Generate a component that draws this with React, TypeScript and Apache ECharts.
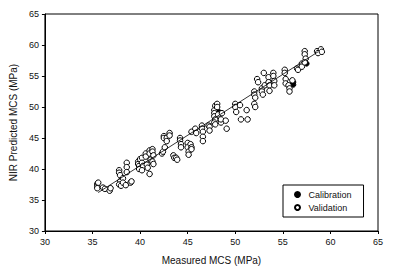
import React, { useEffect, useRef } from "react";
import * as echarts from "echarts";

const xTicks = [30, 35, 40, 45, 50, 55, 60, 65];
const yTicks = [30, 35, 40, 45, 50, 55, 60, 65];

const seriesNames = ["Calibration", "Validation"];

const calibrationPoints: [number, number][] = [
  [48.2, 49.3], [48.4, 49.1], [56.1, 54.0], [56.1, 53.6], [57.5, 57.0], [41.3, 42.4],
];

const validationPoints: [number, number][] = [
  [35.5, 37.6], [35.5, 37.2], [35.5, 36.9], [35.6, 37.8], [36.1, 37.0], [36.3, 36.8],
  [36.8, 36.5], [36.9, 36.9], [37.8, 39.8], [37.8, 39.4], [37.9, 39.0], [37.9, 38.0],
  [37.8, 37.5], [38.0, 37.3], [38.2, 38.5], [38.2, 37.8], [38.5, 37.4], [38.6, 41.0],
  [38.6, 40.3], [38.6, 39.5], [39.0, 37.8], [39.1, 38.0], [39.8, 41.2], [39.8, 40.8],
  [39.9, 40.5], [39.9, 40.0], [40.0, 41.6], [40.2, 41.8], [40.2, 41.0], [40.3, 40.5],
  [40.2, 39.8], [40.6, 42.5], [40.6, 42.0], [40.7, 40.7], [40.8, 40.2], [41.0, 43.0],
  [41.0, 42.5], [41.1, 41.5], [41.0, 39.2], [41.3, 43.2], [41.3, 42.8], [41.4, 42.2],
  [41.3, 41.2], [41.4, 40.8], [42.3, 42.5], [42.4, 42.8], [42.5, 45.3], [42.5, 45.0],
  [42.6, 43.5], [42.8, 45.0], [42.8, 44.5], [43.1, 45.8], [43.1, 45.4], [43.5, 42.2],
  [43.6, 41.8], [43.8, 41.8], [43.9, 41.5], [44.2, 45.0], [44.2, 44.6], [44.3, 44.0],
  [44.3, 43.5], [45.0, 44.2], [45.0, 43.5], [45.1, 42.8], [45.1, 42.3], [45.3, 44.0],
  [45.4, 43.5], [45.4, 43.2], [45.4, 46.0], [45.8, 46.5], [45.9, 45.8], [46.5, 47.0],
  [46.5, 46.5], [46.6, 46.0], [46.6, 45.2], [46.6, 44.5], [47.2, 47.0], [47.3, 46.8],
  [47.3, 46.2], [47.8, 49.5], [47.8, 49.0], [47.8, 48.5], [47.9, 48.0], [47.8, 47.5],
  [47.9, 47.2], [47.9, 50.2], [48.1, 50.5], [48.1, 50.0], [48.2, 48.8], [48.5, 47.5],
  [48.5, 48.0], [48.6, 49.0], [49.0, 47.8], [49.1, 46.5], [50.0, 50.5], [50.0, 50.0],
  [50.1, 49.2], [50.5, 50.3], [50.6, 48.0], [51.2, 49.5], [51.3, 48.0], [52.0, 52.5],
  [52.0, 52.0], [52.1, 51.5], [52.0, 50.5], [52.1, 50.0], [52.3, 54.5], [52.4, 54.0],
  [52.8, 53.0], [52.8, 52.5], [52.9, 52.0], [53.0, 55.5], [53.1, 53.5], [53.5, 54.8],
  [53.5, 54.0], [53.6, 53.5], [53.6, 52.6], [54.0, 55.5], [54.0, 55.0], [54.1, 54.2],
  [54.1, 53.5], [55.2, 56.0], [55.2, 55.5], [55.3, 54.5], [55.3, 53.8], [55.6, 53.5],
  [55.7, 53.0], [55.7, 52.5], [56.0, 54.3], [56.5, 56.2], [56.6, 56.0], [57.0, 57.0],
  [57.0, 56.5], [57.3, 59.0], [57.3, 58.5], [57.4, 57.8], [57.3, 57.2], [58.6, 59.0],
  [58.7, 58.7], [59.0, 59.3], [59.1, 58.9],
];

const fitLine: [number, number][] = [
  [35.6, 36.2], [58.7, 58.9],
];

export default function App() {
  const ref = useRef<HTMLDivElement>(null);
  useEffect(() => {
    if (!ref.current) return;
    const chart = echarts.init(ref.current, undefined, { renderer: "svg" });
    const font = "Liberation Sans";
    chart.setOption({
      animation: false,
      backgroundColor: "#fff",
      grid: {
        left: 43, right: 17, top: 14, bottom: 45,
        show: true, borderColor: "#000", borderWidth: 1,
      },
      xAxis: {
        type: "value", min: xTicks[0], max: xTicks[xTicks.length - 1], interval: 5,
        name: "Measured MCS (MPa)", nameLocation: "middle", nameGap: 24,
        nameTextStyle: { fontFamily: font, fontSize: 10, color: "#111" },
        axisLine: { lineStyle: { color: "#000", width: 1 } },
        axisTick: { show: true, inside: false, length: 3, lineStyle: { color: "#000" } },
        axisLabel: { fontFamily: font, fontSize: 9, color: "#111", margin: 6 },
        splitLine: { show: false },
      },
      yAxis: {
        type: "value", min: yTicks[0], max: yTicks[yTicks.length - 1], interval: 5,
        name: "NIR Predicted MCS (MPa)", nameLocation: "middle", nameGap: 25,
        nameTextStyle: { fontFamily: font, fontSize: 10, color: "#111" },
        axisLine: { show: true, lineStyle: { color: "#000", width: 1 } },
        axisTick: { show: true, inside: false, length: 3, lineStyle: { color: "#000" } },
        axisLabel: { fontFamily: font, fontSize: 9, color: "#111", margin: 6 },
        splitLine: { show: false },
      },
      legend: {
        data: seriesNames,
        orient: "vertical", left: 283, top: 185,
        padding: [5, 12, 5, 11], itemGap: 4,
        itemWidth: 12, itemHeight: 5,
        borderColor: "#000", borderWidth: 1, backgroundColor: "#fff",
        textStyle: { fontFamily: font, fontSize: 9, color: "#111" },
      },
      series: [
        {
          name: seriesNames[0], type: "scatter", data: calibrationPoints, symbol: "circle", symbolSize: 5,
          itemStyle: { color: "#000", borderColor: "#000", borderWidth: 1, opacity: 1 }, z: 2,
        },
        {
          name: seriesNames[1], type: "scatter", data: validationPoints, symbol: "circle", symbolSize: 5.5,
          itemStyle: { color: "#fff", borderColor: "#000", borderWidth: 1, opacity: 1 }, z: 3,
        },
        {
          type: "line", data: fitLine, symbol: "none", silent: true,
          lineStyle: { color: "#000", width: 0.8 }, z: 4,
        },
      ],
    });
    return () => chart.dispose();
  }, []);
  return <div ref={ref} style={{ width: 395, height: 276, position: "absolute", left: 0, top: 0 }} />;
}
